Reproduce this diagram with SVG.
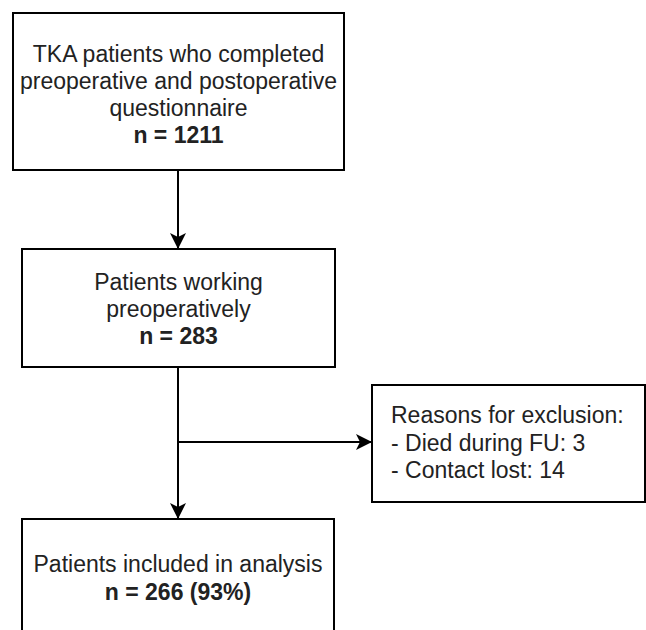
<svg xmlns="http://www.w3.org/2000/svg" width="646" height="630" viewBox="0 0 646 630">
<style>
.box{fill:#fff;stroke:#000;stroke-width:2}
.t{font-family:"Liberation Sans",Arial,sans-serif;font-size:23px;fill:#222}
.c{text-anchor:middle}
.b{font-weight:bold}
.ln{stroke:#000;stroke-width:2;fill:none}
</style>
<defs>
<marker id="arr" viewBox="0 0 16 16" refX="16" refY="8" markerWidth="16" markerHeight="16" markerUnits="userSpaceOnUse" orient="auto">
<path d="M0,0 L16,8 L0,16 L4,8 Z" fill="#000"/>
</marker>
</defs>
<rect width="646" height="630" fill="#fff"/>
<g id="connectors">
<line class="ln" x1="178" y1="170" x2="178" y2="249" marker-end="url(#arr)"/>
<line class="ln" x1="178" y1="367" x2="178" y2="519" marker-end="url(#arr)"/>
<line class="ln" x1="178" y1="442" x2="372" y2="442" marker-end="url(#arr)"/>
</g>
<g id="n1">
<rect class="box" x="13" y="13" width="331" height="157"/>
<text class="t c" x="178.5" y="62">TKA patients who completed</text>
<text class="t c" x="178.5" y="89">preoperative and postoperative</text>
<text class="t c" x="178.5" y="116">questionnaire</text>
<text class="t c b" x="178.5" y="143">n = 1211</text>
</g>
<g id="n2">
<rect class="box" x="22" y="249" width="313" height="118"/>
<text class="t c" x="178.5" y="290">Patients working</text>
<text class="t c" x="178.5" y="317">preoperatively</text>
<text class="t c b" x="178.5" y="344">n = 283</text>
</g>
<g id="n3">
<rect class="box" x="372" y="385" width="273" height="117"/>
<text class="t" x="391" y="423">Reasons for exclusion:</text>
<text class="t" x="391" y="451">- Died during FU: 3</text>
<text class="t" x="391" y="478">- Contact lost: 14</text>
</g>
<g id="n4">
<rect class="box" x="22" y="519" width="312" height="130"/>
<text class="t c" x="178" y="572">Patients included in analysis</text>
<text class="t c b" x="178" y="600">n = 266 (93%)</text>
</g>
</svg>
